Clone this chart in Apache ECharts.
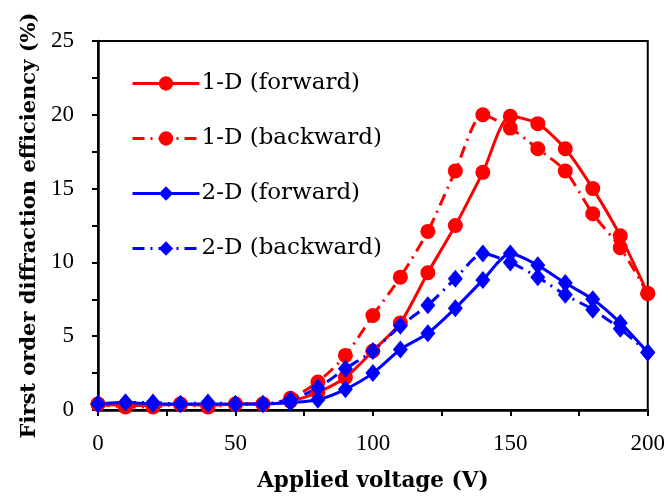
<!DOCTYPE html>
<html>
<head>
<meta charset="utf-8">
<script src="https://cdn.jsdelivr.net/npm/echarts@6/dist/echarts.min.js"></script>
<style>html,body{margin:0;padding:0;background:#fff}#c{width:668px;height:497px}</style>
</head>
<body>
<div id="c"></div>
<script>
const voltages = [0,10,20,30,40,50,60,70,80,90,100,110,120,130,140,150,160,170,180,190,200];
const oneDForward  = [0.4,0.3,0.3,0.4,0.3,0.4,0.4,0.6,1.2,2.2,4.0,5.9,9.3,12.5,16.1,19.9,19.4,17.7,15.0,11.8,7.9];
const oneDBackward = [0.4,0.2,0.2,0.4,0.2,0.4,0.4,0.8,1.9,3.7,6.4,9.0,12.1,16.2,20.0,19.1,17.7,16.2,13.3,11.0,7.9];
const twoDForward  = [0.4,0.5,0.4,0.4,0.4,0.4,0.4,0.5,0.7,1.4,2.5,4.1,5.2,6.9,8.8,10.6,9.8,8.6,7.5,5.9,3.9];
const twoDBackward = [0.4,0.5,0.5,0.4,0.5,0.4,0.4,0.7,1.5,2.8,4.0,5.7,7.1,8.9,10.6,10.0,9.0,7.8,6.8,5.5,3.9];
const seriesNames = ['1-D (forward)','1-D (backward)','2-D (forward)','2-D (backward)'];
const xTitle = 'Applied voltage (V)';
const yTitle = 'First order diffraction efficiency (%)';

const TEXT_FONT = 'DejaVu Serif';
const NUM_FONT = 'Liberation Serif';
const pairs = arr => voltages.map((v,i)=>[v,arr[i]]);
const dashDot = [12,6,2,6];

function mk(name, arr, color, symbol, size, dashed){
  return {
    name, type:'line', data:pairs(arr), smooth:0.25,
    symbol, symbolSize:size,
    itemStyle:{color},
    lineStyle:{color, width:3, type: dashed ? dashDot : 'solid'}
  };
}

const chart = echarts.init(document.getElementById('c'), null, {renderer:'canvas'});
chart.setOption({
  animation:false,
  backgroundColor:'#fff',
  grid:{left:98, right:19, top:41, bottom:81, show:true, borderColor:'#000', borderWidth:2, backgroundColor:'transparent'},
  legend:{
    data:seriesNames, orient:'vertical', left:131, top:72, padding:0,
    itemWidth:67, itemHeight:18, itemGap:32,
    lineStyle:{width:3},
    textStyle:{fontFamily:TEXT_FONT, fontSize:23, color:'#000', padding:[0,0,0,-3]}
  },
  xAxis:{
    type:'value', min:0, max:200, interval:25,
    name:xTitle, nameLocation:'middle', nameGap:60,
    nameTextStyle:{fontFamily:TEXT_FONT, fontSize:21.5, fontWeight:'bold', color:'#000'},
    axisLine:{show:true, lineStyle:{color:'#000', width:2.5}},
    axisTick:{show:true, inside:false, length:6, lineStyle:{color:'#000', width:2}},
    axisLabel:{fontFamily:NUM_FONT, fontSize:23, color:'#000', margin:22,
      formatter: v => (v % 50 === 0 ? String(v) : '')},
    splitLine:{show:false}
  },
  yAxis:{
    type:'value', min:0, max:25, interval:2.5,
    name:yTitle, nameLocation:'middle', nameGap:58, nameRotate:90,
    nameTextStyle:{fontFamily:TEXT_FONT, fontSize:21, fontWeight:'bold', color:'#000'},
    axisLine:{show:true, lineStyle:{color:'#000', width:2.5}},
    axisTick:{show:true, inside:false, length:6, lineStyle:{color:'#000', width:2}},
    axisLabel:{fontFamily:NUM_FONT, fontSize:23, color:'#000', margin:24,
      formatter: v => (v % 5 === 0 ? String(v) : '')},
    splitLine:{show:false}
  },
  series:[
    mk(seriesNames[0], oneDForward, '#ff0000', 'circle', 15, false),
    mk(seriesNames[1], oneDBackward, '#ff0000', 'circle', 15, true),
    mk(seriesNames[2], twoDForward, '#0000ff', 'diamond', [15,18], false),
    mk(seriesNames[3], twoDBackward, '#0000ff', 'diamond', [15,18], true)
  ]
});
</script>
</body>
</html>
